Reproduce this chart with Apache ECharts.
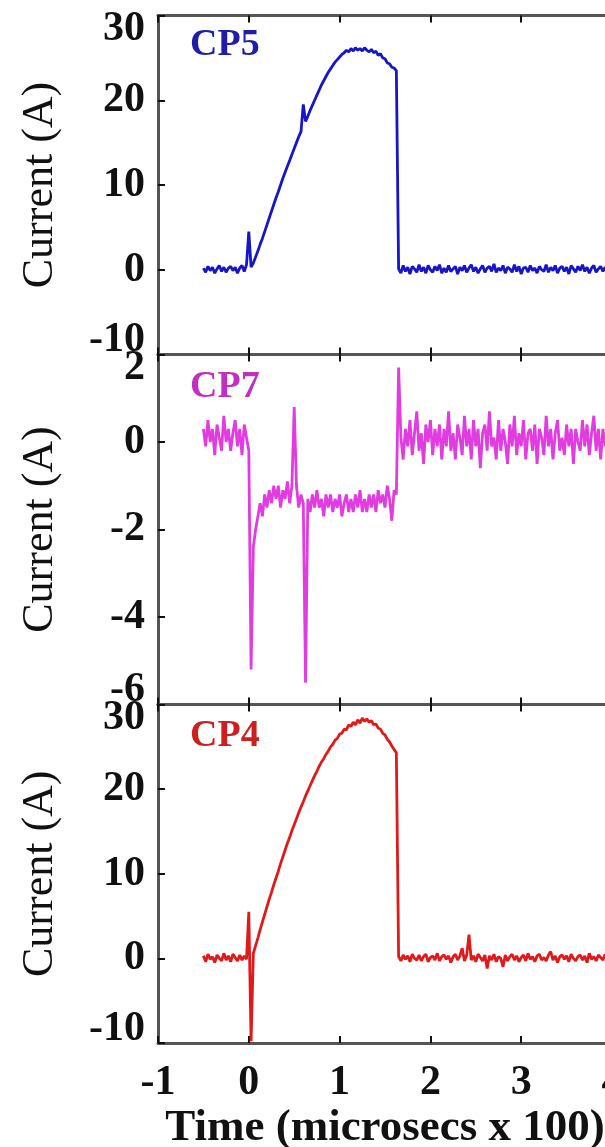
<!DOCTYPE html>
<html>
  <head>
    <meta charset="utf-8" />
    <title>CP5 / CP7 / CP4 current</title>
    <script src="https://cdn.jsdelivr.net/npm/echarts@6/dist/echarts.min.js"></script>
    <style>
      html, body { margin: 0; padding: 0; background: #fff; }
    </style>
  </head>
  <body>
    <div id="main" style="width: 605px; height: 1147px"></div>
    <script type="text/javascript">
      // sample clock of the traces (microsecs x 100)
      var T0 = -0.5;
      var DT = 0.025;

      var xTicks = [-1, 0, 1, 2, 3, 4];
      var panelNames = ["CP5", "CP7", "CP4"];

      // CP5: before trigger, pulse, after pulse
      var cp5Pre = [0.2, -0.3, 0.4, -0.1, 0.3, -0.4, 0.1, 0.5, -0.2, 0.3, -0.3, 0.2, 0.4, -0.1, 0.3, -0.4, 0.2, 0.5, -0.2, 0.6, 4.5];
      var cp5Pulse = [0.3, 0.8, 1.5, 2.2, 3.0, 3.7, 4.5, 5.3, 6.1, 6.9, 7.7, 8.5, 9.2, 10.0, 10.8, 11.5, 12.2, 12.9, 13.6, 14.3,
        15.0, 15.7, 16.3, 19.5, 17.5, 18.1, 18.8, 19.4, 20.0, 20.6, 21.2, 21.8, 22.3, 22.8, 23.3, 23.7, 24.1, 24.5, 24.8, 25.1,
        25.4, 25.6, 25.9, 25.7, 26.1, 25.8, 26.2, 25.9, 26.1, 25.8, 26.2, 25.9, 25.7, 26.0, 25.6, 25.8, 25.3, 25.5, 25.0, 24.9,
        24.4, 24.3, 23.9, 23.8, 23.5];
      var cp5Post = [0.1, -0.4, 0.5, -0.2, 0.3, -0.5, 0.4, 0.1, -0.3, 0.6,
        -0.2, 0.3, -0.4, 0.5, 0.0, -0.3, 0.4, -0.1, 0.6, -0.4,
        0.2, -0.3, 0.5, -0.2, 0.1, 0.4, -0.5, 0.3, -0.1, 0.5,
        -0.3, 0.2, 0.6, -0.2, 0.3, -0.4, 0.1, 0.5, -0.3, 0.2,
        0.4, -0.2, 0.7, -0.3, 0.2, -0.1, 0.5, -0.4, 0.3, 0.1,
        -0.3, 0.6, -0.2, 0.4, -0.5, 0.2, 0.3, -0.3, 0.5, -0.1,
        0.2, -0.4, 0.4, 0.0, -0.2, 0.6, -0.3, 0.3, -0.1, 0.5,
        -0.4, 0.2, 0.4, -0.2, 0.3, -0.5, 0.5, 0.1, -0.3, 0.4,
        -0.1, 0.6, -0.2, 0.3, -0.4, 0.2, 0.5, -0.3, 0.1, 0.4,
        -0.2, 0.3, -0.4, 0.5, -0.1];

      // CP7
      var cp7Pre = [0.3, -0.1, 0.5, 0.0, 0.3, -0.3, 0.4, 0.1, -0.2, 0.6, 0.0, 0.3, -0.2, 0.2, 0.5, -0.1, 0.3, -0.3, 0.4, 0.1, -0.2];
      var cp7Pulse = [-5.2, -2.4, -2.0, -1.7, -1.4, -1.7, -1.2, -1.5, -1.1, -1.4, -1.0, -1.3, -1.0, -1.5, -1.1, -1.3, -0.9, -1.4, -1.0, 0.8,
        -1.0, -1.5, -1.2, -1.4, -5.5, -1.3, -1.6, -1.2, -1.5, -1.1, -1.5, -1.3, -1.7, -1.2, -1.5, -1.2, -1.6, -1.3, -1.5, -1.2,
        -1.7, -1.4, -1.2, -1.6, -1.3, -1.6, -1.2, -1.5, -1.1, -1.6, -1.3, -1.6, -1.2, -1.5, -1.2, -1.6, -1.1, -1.4, -1.2, -1.5,
        -1.0, -1.3, -1.8, -1.1, -1.2];
      var cp7Post = [1.7, 0.1, -0.4, 0.3, -0.1, 0.5, -0.3, 0.2, 0.7, -0.2,
        0.2, -0.5, 0.4, 0.0, 0.5, -0.3, 0.3, -0.1, 0.4, -0.4,
        0.3, -0.1, 0.7, -0.2, 0.2, -0.4, 0.4, 0.1, -0.3, 0.6,
        -0.1, 0.3, -0.4, 0.5, -0.1, 0.3, -0.6, 0.2, 0.4, -0.2,
        0.7, -0.1, 0.1, -0.4, 0.5, -0.2, 0.3, 0.0, -0.5, 0.4,
        -0.1, 0.6, -0.3, 0.2, -0.1, 0.5, -0.4, 0.2, 0.3, -0.2,
        0.4, -0.5, 0.3, 0.1, -0.3, 0.6, -0.1, 0.3, -0.4, 0.2,
        0.5, -0.2, 0.1, -0.3, 0.4, -0.1, 0.3, -0.5, 0.3, 0.0,
        -0.2, 0.5, -0.1, 0.4, -0.3, 0.2, 0.6, -0.2, 0.3, -0.4,
        0.3, -0.1, 0.4, -0.3, 0.2];

      // CP4
      var cp4Pre = [0.3, -0.4, 0.5, -0.1, 0.2, -0.5, 0.4, 0.0, -0.3, 0.6, -0.2, 0.3, -0.4, 0.5, 0.1, -0.3, 0.4, -0.2, 0.3, -0.1, 5.5];
      var cp4Pulse = [-9.8, 0.6, 1.5, 2.4, 3.4, 4.3, 5.2, 6.1, 7.0, 7.8, 8.7, 9.5, 10.3, 11.2, 12.0, 12.8, 13.6, 14.3, 15.1, 15.8,
        16.5, 17.2, 17.9, 18.5, 19.2, 19.8, 20.4, 21.0, 21.6, 22.1, 22.7, 23.2, 23.6, 24.1, 24.5, 25.0, 25.3, 25.8, 26.0, 26.5,
        26.6, 27.1, 27.0, 27.6, 27.4, 27.9, 27.6, 28.2, 27.8, 28.4, 28.0, 28.3, 27.9, 28.1, 27.6, 27.7, 27.2, 27.1, 26.6, 26.4,
        25.9, 25.6, 25.1, 24.7, 24.3];
      var cp4Post = [0.2, -0.3, 0.4, -0.1, 0.3, -0.4, 0.5, 0.0, -0.2, 0.4,
        -0.3, 0.2, 0.5, -0.4, 0.1, 0.3, -0.2, 0.6, -0.3, 0.2,
        0.4, -0.1, 0.3, -0.5, 0.2, 0.5, -0.2, 0.3, 1.2, -0.3,
        0.4, 2.8, -0.2, 0.3, -0.4, 0.5, 0.1, -0.3, 0.4, -1.2,
        0.3, -0.2, 0.5, -0.4, 0.2, 0.0, -1.0, 0.4, -0.3, 0.2,
        0.5, -0.2, 0.3, -0.4, 0.1, 0.4, -0.3, 0.6, -0.1, 0.2,
        -0.4, 0.3, 0.5, -0.2, 0.1, -0.3, 0.4, 0.8, -0.2, 0.3,
        -0.5, 0.2, 0.4, -0.1, 0.3, -0.4, 0.5, 0.0, -0.3, 0.2,
        0.4, -0.2, 0.3, -0.5, 0.6, -0.1, 0.2, -0.3, 0.4, 0.1,
        -0.2, 0.5, -0.3, 0.2, 0.0];

      var yRanges = [
        { min: -10, max: 30, interval: 10 },
        { min: -6, max: 2, interval: 2 },
        { min: -10, max: 30, interval: 10 },
      ];

      function trace(pre, pulse, post) {
        var vals = pre.concat(pulse, post);
        return vals.map(function (v, i) {
          return [+(T0 + i * DT).toFixed(3), v];
        });
      }

      var traces = [
        trace(cp5Pre, cp5Pulse, cp5Post),
        trace(cp7Pre, cp7Pulse, cp7Post),
        trace(cp4Pre, cp4Pulse, cp4Post),
      ];

      var lineColors = ["#1616c8", "#e03ce0", "#e01a1a"];
      var nameColors = ["#1e1ea8", "#c030c0", "#cc2020"];

      var font = "'Liberation Serif', 'Times New Roman', serif";
      var gridTops = [15.5, 354.5, 704.5];
      var gridHeights = [339, 350, 338.5];

      var axisLine = { onZero: false, lineStyle: { color: "#555", width: 3 } };
      var axisTick = { inside: true, length: 7, lineStyle: { color: "#111", width: 2 } };

      var grids = [], xAxes = [], yAxes = [], series = [], titles = [];
      for (var p = 0; p < 3; p++) {
        grids.push({
          left: 158, width: 454, top: gridTops[p], height: gridHeights[p],
          containLabel: false, outerBoundsMode: "none",
        });
        var last = p === 2;
        xAxes.push({
          type: "value", gridIndex: p, position: "bottom",
          min: xTicks[0], max: xTicks[xTicks.length - 1], interval: 1,
          axisLine: axisLine, axisTick: axisTick, splitLine: { show: false },
          axisLabel: {
            show: last, margin: 19, color: "#111",
            fontFamily: font, fontWeight: "bold", fontSize: 42,
          },
          name: last ? "Time (microsecs x 100)" : "",
          nameLocation: "middle", nameGap: 63,
          nameTextStyle: { fontFamily: font, fontWeight: "bold", fontSize: 45, color: "#111" },
        });
        xAxes.push({
          type: "value", gridIndex: p, position: "top",
          min: xTicks[0], max: xTicks[xTicks.length - 1], interval: 1,
          axisLine: axisLine, axisTick: axisTick, splitLine: { show: false },
          axisLabel: { show: false },
        });
        yAxes.push({
          type: "value", gridIndex: p, position: "left",
          min: yRanges[p].min, max: yRanges[p].max, interval: yRanges[p].interval,
          axisLine: axisLine, axisTick: axisTick, splitLine: { show: false },
          axisLabel: {
            margin: 13, color: "#111", lineHeight: 28,
            fontFamily: font, fontWeight: "bold", fontSize: 42,
            verticalAlignMinLabel: "bottom", verticalAlignMaxLabel: "top",
          },
          name: "Current (A)", nameLocation: "middle", nameGap: 96,
          nameTextStyle: { fontFamily: font, fontSize: 44, color: "#111" },
        });
        yAxes.push({
          type: "value", gridIndex: p, position: "right",
          min: yRanges[p].min, max: yRanges[p].max, interval: yRanges[p].interval,
          axisLine: axisLine, axisTick: axisTick, splitLine: { show: false },
          axisLabel: { show: false },
        });
        series.push({
          type: "line", name: panelNames[p],
          xAxisIndex: p * 2, yAxisIndex: p * 2,
          data: traces[p], showSymbol: false, symbol: "none",
          lineStyle: { color: lineColors[p], width: 2.8 },
          animation: false,
        });
        titles.push({
          text: panelNames[p], left: 190, top: gridTops[p] + [11, 14, 13][p], padding: 0,
          textStyle: { fontFamily: font, fontWeight: "bold", fontSize: 38, color: nameColors[p] },
        });
      }

      var myChart = echarts.init(document.getElementById("main"), null, { renderer: "canvas" });
      myChart.setOption({
        backgroundColor: "#fff",
        animation: false,
        title: titles,
        grid: grids,
        xAxis: xAxes,
        yAxis: yAxes,
        series: series,
      });
    </script>
  </body>
</html>
